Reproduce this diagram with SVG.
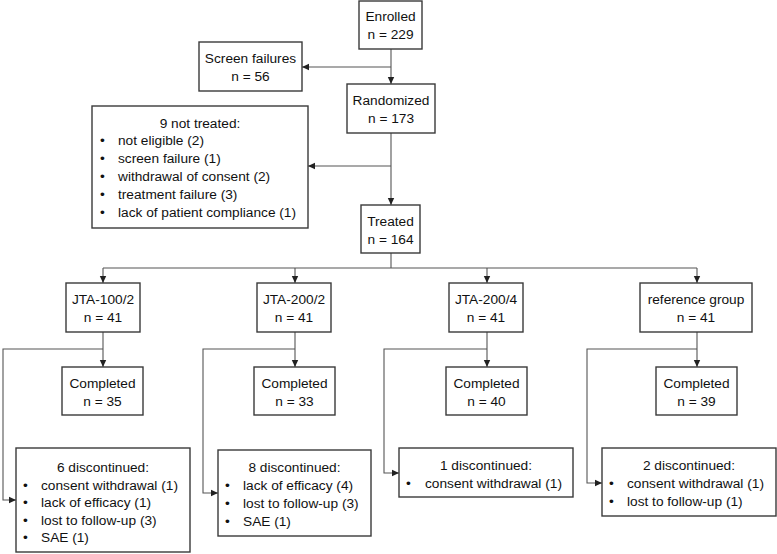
<svg xmlns="http://www.w3.org/2000/svg" width="777" height="554" viewBox="0 0 777 554">
<style>
.box{fill:#fff;stroke:#3a3a3a;stroke-width:1.4}
.t{font-family:"Liberation Sans",Arial,sans-serif;font-size:13.7px;fill:#111}
.c{text-anchor:middle}
.ln{fill:none;stroke:#555;stroke-width:1.1}
</style>
<defs>
<marker id="ah" markerUnits="userSpaceOnUse" markerWidth="8" markerHeight="8" viewBox="0 0 8 8" refX="7" refY="4" orient="auto">
<path d="M0,0.8 L7,4 L0,7.2 Z" fill="#222"/>
</marker>
</defs>
<rect width="777" height="554" fill="#fff"/>
<g id="connectors">
<path class="ln" d="M391,49 V84" marker-end="url(#ah)"/>
<path class="ln" d="M391,67 H302" marker-end="url(#ah)"/>
<path class="ln" d="M391,133 V205" marker-end="url(#ah)"/>
<path class="ln" d="M391,166 H308" marker-end="url(#ah)"/>
<path class="ln" d="M391,253 V268 M103,268 H697"/>
<path class="ln" d="M103,268 V283" marker-end="url(#ah)"/>
<path class="ln" d="M295,268 V283" marker-end="url(#ah)"/>
<path class="ln" d="M487,268 V283" marker-end="url(#ah)"/>
<path class="ln" d="M697,268 V283" marker-end="url(#ah)"/>
<path class="ln" d="M103,332 V367" marker-end="url(#ah)"/>
<path class="ln" d="M295,332 V367" marker-end="url(#ah)"/>
<path class="ln" d="M487,332 V367" marker-end="url(#ah)"/>
<path class="ln" d="M697,332 V367" marker-end="url(#ah)"/>
<path class="ln" d="M103,349 H3 V500 H16" marker-end="url(#ah)"/>
<path class="ln" d="M295,349 H203 V493 H218" marker-end="url(#ah)"/>
<path class="ln" d="M487,349 H384 V473 H399" marker-end="url(#ah)"/>
<path class="ln" d="M697,349 H587 V483 H602" marker-end="url(#ah)"/>
</g>
<g id="enrolled"><rect class="box" x="359" y="1" width="63" height="48"/>
<text class="t c" x="390.5" y="21">Enrolled</text><text class="t c" x="390.5" y="39">n = 229</text></g>
<g id="screen-failures"><rect class="box" x="199" y="42" width="103" height="49"/>
<text class="t c" x="250.5" y="63">Screen failures</text><text class="t c" x="250.5" y="81">n = 56</text></g>
<g id="randomized"><rect class="box" x="347" y="84" width="88" height="49"/>
<text class="t c" x="391" y="105">Randomized</text><text class="t c" x="391" y="123">n = 173</text></g>
<g id="not-treated"><rect class="box" x="92" y="106" width="216" height="122"/>
<text class="t c" x="200" y="128">9 not treated:</text>
<text class="t" x="100" y="145">•</text><text class="t" x="118" y="145">not eligible (2)</text>
<text class="t" x="100" y="163">•</text><text class="t" x="118" y="163">screen failure (1)</text>
<text class="t" x="100" y="181">•</text><text class="t" x="118" y="181">withdrawal of consent (2)</text>
<text class="t" x="100" y="199">•</text><text class="t" x="118" y="199">treatment failure (3)</text>
<text class="t" x="100" y="217">•</text><text class="t" x="118" y="217">lack of patient compliance (1)</text></g>
<g id="treated"><rect class="box" x="361" y="205" width="59" height="48"/>
<text class="t c" x="390.5" y="226">Treated</text><text class="t c" x="390.5" y="244">n = 164</text></g>
<g id="jta-100-2"><rect class="box" x="66" y="283" width="74" height="49"/>
<text class="t c" x="103" y="304">JTA-100/2</text><text class="t c" x="103" y="322">n = 41</text></g>
<g id="jta-200-2"><rect class="box" x="257" y="283" width="74" height="49"/>
<text class="t c" x="294" y="304">JTA-200/2</text><text class="t c" x="294" y="322">n = 41</text></g>
<g id="jta-200-4"><rect class="box" x="449" y="283" width="74" height="49"/>
<text class="t c" x="486" y="304">JTA-200/4</text><text class="t c" x="486" y="322">n = 41</text></g>
<g id="reference-group"><rect class="box" x="640" y="283" width="112" height="49"/>
<text class="t c" x="696" y="304">reference group</text><text class="t c" x="696" y="322">n = 41</text></g>
<g id="completed-1"><rect class="box" x="62" y="367" width="81" height="48"/>
<text class="t c" x="102.5" y="388">Completed</text><text class="t c" x="102.5" y="406">n = 35</text></g>
<g id="completed-2"><rect class="box" x="254" y="367" width="81" height="48"/>
<text class="t c" x="294.5" y="388">Completed</text><text class="t c" x="294.5" y="406">n = 33</text></g>
<g id="completed-3"><rect class="box" x="446" y="367" width="81" height="48"/>
<text class="t c" x="486.5" y="388">Completed</text><text class="t c" x="486.5" y="406">n = 40</text></g>
<g id="completed-4"><rect class="box" x="656" y="367" width="81" height="48"/>
<text class="t c" x="696.5" y="388">Completed</text><text class="t c" x="696.5" y="406">n = 39</text></g>
<g id="discontinued-1"><rect class="box" x="16" y="448" width="174" height="104"/>
<text class="t c" x="103" y="472">6 discontinued:</text>
<text class="t" x="23" y="489.5">•</text><text class="t" x="41" y="489.5">consent withdrawal (1)</text>
<text class="t" x="23" y="507">•</text><text class="t" x="41" y="507">lack of efficacy (1)</text>
<text class="t" x="23" y="524.5">•</text><text class="t" x="41" y="524.5">lost to follow-up (3)</text>
<text class="t" x="23" y="542">•</text><text class="t" x="41" y="542">SAE (1)</text></g>
<g id="discontinued-2"><rect class="box" x="218" y="450" width="153" height="86"/>
<text class="t c" x="294.5" y="472">8 discontinued:</text>
<text class="t" x="225" y="490">•</text><text class="t" x="243" y="490">lack of efficacy (4)</text>
<text class="t" x="225" y="508">•</text><text class="t" x="243" y="508">lost to follow-up (3)</text>
<text class="t" x="225" y="526">•</text><text class="t" x="243" y="526">SAE (1)</text></g>
<g id="discontinued-3"><rect class="box" x="399" y="448" width="174" height="49"/>
<text class="t c" x="486" y="470">1 discontinued:</text>
<text class="t" x="406" y="488">•</text><text class="t" x="425" y="488">consent withdrawal (1)</text></g>
<g id="discontinued-4"><rect class="box" x="602" y="448" width="174" height="68"/>
<text class="t c" x="689" y="470">2 discontinued:</text>
<text class="t" x="609" y="488">•</text><text class="t" x="627" y="488">consent withdrawal (1)</text>
<text class="t" x="609" y="506">•</text><text class="t" x="627" y="506">lost to follow-up (1)</text></g>
</svg>
